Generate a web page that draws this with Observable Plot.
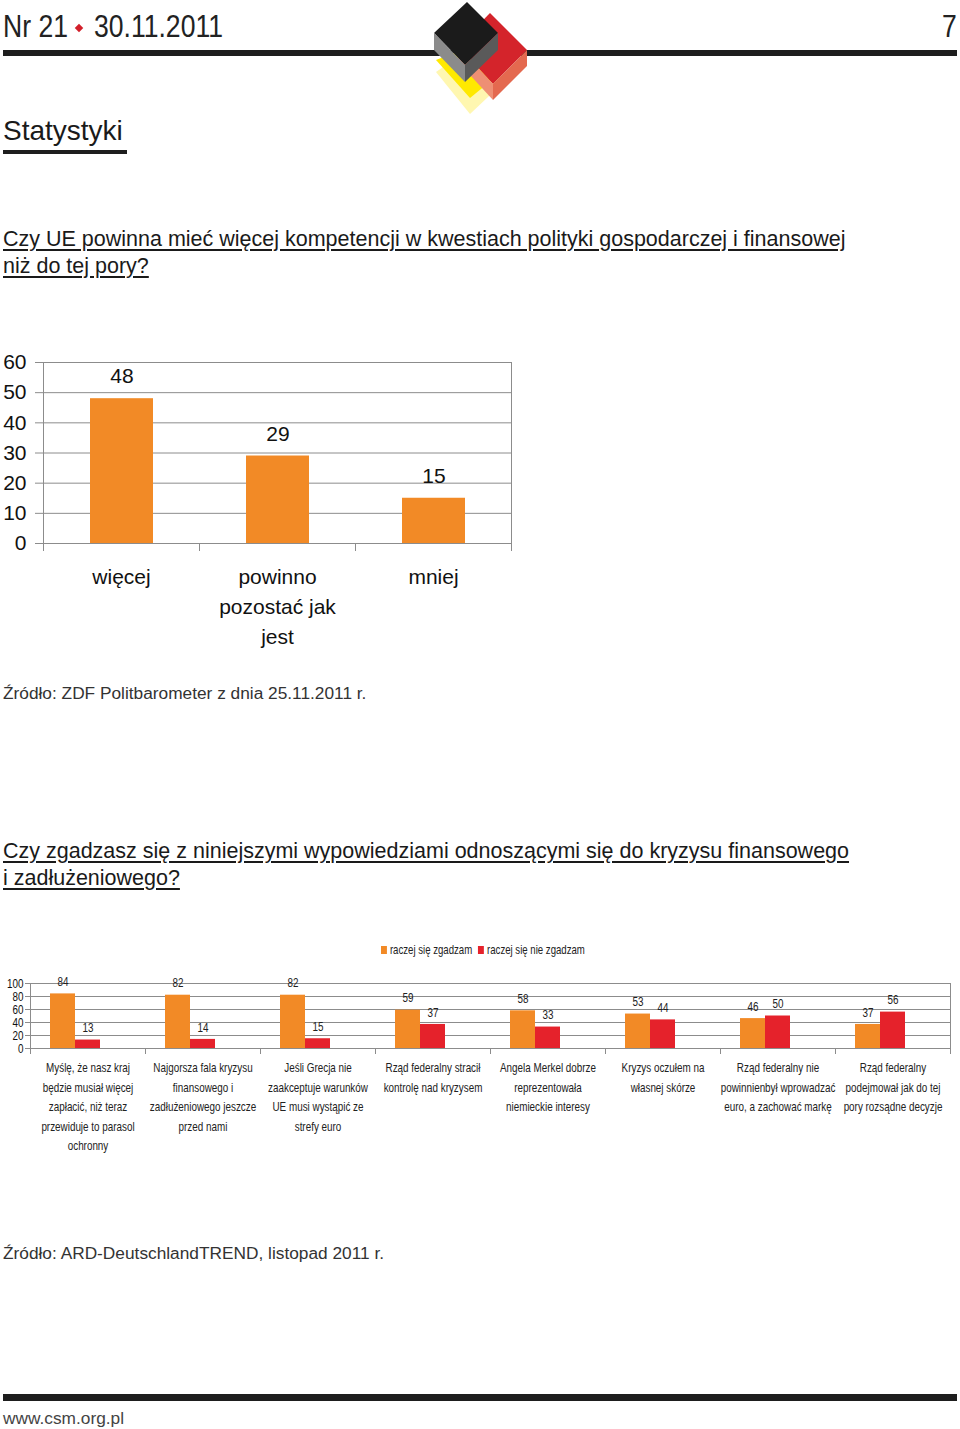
<!DOCTYPE html>
<html><head><meta charset="utf-8">
<script src="https://cdn.jsdelivr.net/npm/d3@7"></script>
<script src="https://cdn.jsdelivr.net/npm/@observablehq/plot@0.6"></script>
<style>
body{margin:0;background:#fff;}
#page{position:relative;width:960px;height:1429px;overflow:hidden;font-family:"Liberation Sans",Arial,sans-serif;color:#1c1c1c;}
.abs{position:absolute;white-space:nowrap;}
.cond{transform:scaleX(0.83);transform-origin:left top;}
.q{font-size:21.5px;line-height:27px;color:#1a1a1a;}
.q span{text-decoration:underline;text-decoration-thickness:1.5px;text-underline-offset:3px;}
.src{font-size:17.3px;line-height:17px;color:#333;}
.bar{position:absolute;background:#1e1e1e;}
.legend{position:absolute;top:942px;left:381px;font-size:13px;line-height:16px;color:#222;display:flex;align-items:center;transform:scaleX(0.74);transform-origin:left top;white-space:nowrap;}
.legend .sw{display:inline-block;width:8px;height:8px;margin-right:4px;}
.legend .it{display:inline-flex;align-items:center;margin-right:8px;}
</style></head>
<body><div id="page">
  <div class="abs cond" style="left:3px;top:10.3px;font-size:32px;line-height:32px;color:#222">Nr 21</div>
  <div class="abs" style="left:76px;top:25px;width:6px;height:6px;background:#d21f2a;transform:rotate(45deg)"></div>
  <div class="abs cond" style="left:94px;top:10.3px;font-size:32px;line-height:32px;color:#222">30.11.2011</div>
  <div class="abs" style="right:3px;top:10.3px;font-size:32px;line-height:32px;color:#222;transform:scaleX(0.83);transform-origin:right top">7</div>
  <div class="bar" style="left:3px;top:50px;width:954px;height:6px"></div>
  <svg class="abs" style="left:0;top:0" width="960" height="130">
    <polygon points="436,72 470,114 506,80 470,48" fill="#fff7b0"/>
    <polygon points="436,60 470,98 492,80 466,48" fill="#ffe900"/>
    <polygon points="490,13 527,50 493,84 458,46" fill="#d4242b"/>
    <polygon points="458,46 493,84 493,100 458,62" fill="#ee8f74"/>
    <polygon points="493,84 527,50 527,66 493,100" fill="#e4694f"/>
    <polygon points="467,2 498,33 465,65 434,33" fill="#1b1b1b"/>
    <polygon points="434,33 465,65 465,82 434,50" fill="#8b8b8b"/>
    <polygon points="465,65 498,33 498,50 465,82" fill="#5a5a5a"/>
  </svg>
  <div class="abs" style="left:3px;top:117.3px;font-size:28px;line-height:28px;color:#1a1a1a">Statystyki</div>
  <div class="bar" style="left:3px;top:150px;width:124px;height:4px"></div>

  <div class="abs q" style="left:3px;top:225.5px"><span>Czy UE powinna mieć więcej kompetencji w kwestiach polityki gospodarczej i finansowej </span><br><span>niż do tej pory?</span></div>

  <div id="chart1" class="abs" style="left:0;top:340px"></div>

  <div class="abs src" style="left:3px;top:684.5px">Źródło: ZDF Politbarometer z dnia 25.11.2011 r.</div>

  <div class="abs q" style="left:3px;top:837.5px"><span>Czy zgadzasz się z niniejszymi wypowiedziami odnoszącymi się do kryzysu finansowego </span><br><span>i zadłużeniowego?</span></div>

  <div id="legend" class="legend"></div>
  <div id="chart2" class="abs" style="left:0;top:960px"></div>

  <div class="abs src" style="left:3px;top:1244.5px">Źródło: ARD-DeutschlandTREND, listopad 2011 r.</div>

  <div class="bar" style="left:3px;top:1394px;width:954px;height:7px"></div>
  <div class="abs src" style="left:3px;top:1410px;color:#444">www.csm.org.pl</div>
</div>
<script>
// ---- Chart 1 data ----
const q1Categories = ["więcej", "powinno\npozostać jak\njest", "mniej"];
const q1Values = [48, 29, 15];
const q1Series = "ZDF";
const q1Ticks = [0, 10, 20, 30, 40, 50, 60];

// ---- Chart 2 data ----
const q2Categories = [
  "Myślę, że nasz kraj\nbędzie musiał więcej\nzapłacić, niż teraz\nprzewiduje to parasol\nochronny",
  "Najgorsza fala kryzysu\nfinansowego i\nzadłużeniowego jeszcze\nprzed nami",
  "Jeśli Grecja nie\nzaakceptuje warunków\nUE musi wystąpić ze\nstrefy euro",
  "Rząd federalny stracił\nkontrolę nad kryzysem",
  "Angela Merkel dobrze\nreprezentowała\nniemieckie interesy",
  "Kryzys oczułem na\nwłasnej skórze",
  "Rząd federalny nie\npowinnienbył wprowadzać\neuro, a zachować markę",
  "Rząd federalny\npodejmował jak do tej\npory rozsądne decyzje"
];
const q2Series = ["raczej się zgadzam", "raczej się nie zgadzam"];
const q2Agree = [84, 82, 82, 59, 58, 53, 46, 37];
const q2Disagree = [13, 14, 15, 37, 33, 44, 50, 56];
const q2Ticks = [0, 20, 40, 60, 80, 100];

const orange = "#f28a26", red = "#e5222b", gridColor = "#8c8c8c";
const baseFont = '"Liberation Sans",Arial,sans-serif';

// horizontally condense SVG texts around their anchor (narrow typeface look)
function condense(svg, factor) {
  svg.querySelectorAll("text").forEach(t => {
    const tr = t.getAttribute("transform");
    if (tr) t.setAttribute("transform", tr + ` scale(${factor},1)`);
  });
}

// ---- Chart 1 ----
const data1 = q1Categories.map((c, i) => ({category: c, value: q1Values[i], series: q1Series}));
const h1 = 320, mt1 = 22, mb1 = 117;
const fh1 = h1 - mt1 - mb1;
const chart1 = Plot.plot({
  width: 530, height: h1,
  marginLeft: 42, marginRight: 18, marginTop: mt1, marginBottom: mb1,
  style: {fontFamily: baseFont, fontSize: "21px", color: "#1a1a1a", background: "transparent"},
  fx: {domain: q1Categories, padding: 0, label: null},
  x: {domain: [q1Series], paddingInner: 0, paddingOuter: 0.725, axis: null},
  y: {domain: [0, 60], label: null},
  marks: [
    Plot.gridY(q1Ticks, {stroke: gridColor, strokeOpacity: 1, strokeWidth: 1}),
    Plot.frame({anchor: "left", facetAnchor: "left", insetBottom: -7, stroke: gridColor}),
    Plot.frame({anchor: "right", facetAnchor: "right", insetBottom: -7, stroke: gridColor}),
    Plot.frame({anchor: "left", insetTop: fh1, insetBottom: -7, stroke: gridColor}),
    Plot.barY(data1, {fx: "category", x: "series", y: "value", fill: orange}),
    Plot.text(data1, {fx: "category", x: "series", y: "value", text: d => String(d.value), dy: -22, fontSize: 21, fill: "#111"}),
    Plot.axisY({ticks: q1Ticks, tickSize: 8, tickPadding: 9, fontSize: 21, stroke: gridColor, fill: "#111", label: null}),
    Plot.axisFx({anchor: "bottom", tickSize: 0, tickPadding: 19, lineHeight: 1.43, fontSize: 21, fill: "#111", label: null})
  ]
});
document.getElementById("chart1").append(chart1);

// ---- Chart 2 ----
const data2 = [];
q2Categories.forEach((c, i) => {
  data2.push({category: c, series: q2Series[0], value: q2Agree[i]});
  data2.push({category: c, series: q2Series[1], value: q2Disagree[i]});
});
const h2 = 220, mt2 = 23, mb2 = 132;
const fh2 = h2 - mt2 - mb2;
const chart2 = Plot.plot({
  width: 960, height: h2,
  marginLeft: 27, marginRight: 8, marginTop: mt2, marginBottom: mb2,
  style: {fontFamily: baseFont, fontSize: "13px", color: "#1a1a1a", background: "transparent"},
  fx: {domain: q2Categories, padding: 0, label: null},
  x: {domain: q2Series, paddingInner: 0, paddingOuter: 1.223, align: 0.3, axis: null},
  y: {domain: [0, 100], label: null},
  color: {domain: q2Series, range: [orange, red]},
  marks: [
    Plot.gridY(q2Ticks, {stroke: gridColor, strokeOpacity: 1, strokeWidth: 1}),
    Plot.frame({anchor: "left", facetAnchor: "left", insetBottom: -5, stroke: gridColor}),
    Plot.frame({anchor: "right", facetAnchor: "right", insetBottom: -5, stroke: gridColor}),
    Plot.frame({anchor: "left", insetTop: fh2, insetBottom: -5, stroke: gridColor}),
    Plot.barY(data2, {fx: "category", x: "series", y: "value", fill: "series"}),
    Plot.text(data2, {fx: "category", x: "series", y: "value", text: d => String(d.value), dy: -12, fontSize: 13, fill: "#222"}),
    Plot.axisY({ticks: q2Ticks, tickSize: 5, tickPadding: 2, fontSize: 13, stroke: gridColor, fill: "#111", label: null}),
    Plot.axisFx({anchor: "bottom", tickSize: 0, tickPadding: 10, lineHeight: 1.5, fontSize: 13, fill: "#222", label: null})
  ]
});
document.getElementById("chart2").append(chart2);
condense(chart2, 0.76);

// legend
const legendColors = [orange, red];
const lg = document.getElementById("legend");
q2Series.forEach((s, i) => {
  const it = document.createElement("span");
  it.className = "it";
  const sw = document.createElement("span");
  sw.className = "sw";
  sw.style.background = legendColors[i];
  it.append(sw, document.createTextNode(s));
  lg.append(it);
});
</script>
</body></html>
